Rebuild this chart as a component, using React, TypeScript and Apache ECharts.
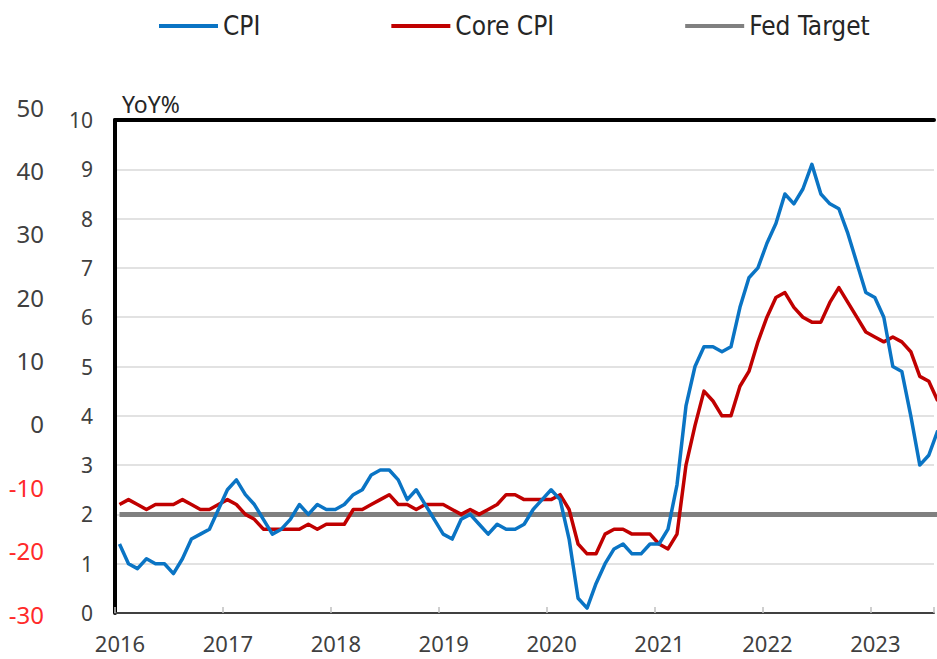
import React, { useEffect, useRef } from "react";
import * as echarts from "echarts";

const startYear = 2016;
const yearTicks = [2016, 2017, 2018, 2019, 2020, 2021, 2022, 2023];

// Monthly YoY %, Jan 2016 .. Aug 2023
const cpi = [
  1.4, 1.0, 0.9, 1.1, 1.0, 1.0, 0.8, 1.1, 1.5, 1.6, 1.7, 2.1,
  2.5, 2.7, 2.4, 2.2, 1.9, 1.6, 1.7, 1.9, 2.2, 2.0, 2.2, 2.1,
  2.1, 2.2, 2.4, 2.5, 2.8, 2.9, 2.9, 2.7, 2.3, 2.5, 2.2, 1.9,
  1.6, 1.5, 1.9, 2.0, 1.8, 1.6, 1.8, 1.7, 1.7, 1.8, 2.1, 2.3,
  2.5, 2.3, 1.5, 0.3, 0.1, 0.6, 1.0, 1.3, 1.4, 1.2, 1.2, 1.4,
  1.4, 1.7, 2.6, 4.2, 5.0, 5.4, 5.4, 5.3, 5.4, 6.2, 6.8, 7.0,
  7.5, 7.9, 8.5, 8.3, 8.6, 9.1, 8.5, 8.3, 8.2, 7.7, 7.1, 6.5,
  6.4, 6.0, 5.0, 4.9, 4.0, 3.0, 3.2, 3.7,
];

const coreCpi = [
  2.2, 2.3, 2.2, 2.1, 2.2, 2.2, 2.2, 2.3, 2.2, 2.1, 2.1, 2.2,
  2.3, 2.2, 2.0, 1.9, 1.7, 1.7, 1.7, 1.7, 1.7, 1.8, 1.7, 1.8,
  1.8, 1.8, 2.1, 2.1, 2.2, 2.3, 2.4, 2.2, 2.2, 2.1, 2.2, 2.2,
  2.2, 2.1, 2.0, 2.1, 2.0, 2.1, 2.2, 2.4, 2.4, 2.3, 2.3, 2.3,
  2.3, 2.4, 2.1, 1.4, 1.2, 1.2, 1.6, 1.7, 1.7, 1.6, 1.6, 1.6,
  1.4, 1.3, 1.6, 3.0, 3.8, 4.5, 4.3, 4.0, 4.0, 4.6, 4.9, 5.5,
  6.0, 6.4, 6.5, 6.2, 6.0, 5.9, 5.9, 6.3, 6.6, 6.3, 6.0, 5.7,
  5.6, 5.5, 5.6, 5.5, 5.3, 4.8, 4.7, 4.3,
];

const fedTarget = 2;

const innerTicks = { min: 0, max: 10, interval: 1 };
const outerTicks = { min: -30, max: 50, interval: 10 };

const monthX = (i: number) => startYear + (i + 0.5) / 12;

export default function App() {
  const ref = useRef<HTMLDivElement>(null);

  useEffect(() => {
    if (!ref.current) return;
    const chart = echarts.init(ref.current, null, { renderer: "svg" });
    const xMax = startYear + (937 - 115) / 108.3;
    const numFont = "Noto Sans";
    const txt = "#404040";

    chart.setOption({
      animation: false,
      backgroundColor: "#ffffff",
      legend: {
        left: 154,
        top: 8,
        itemWidth: 59,
        itemHeight: 4,
        itemGap: 131,
        icon: "rect",
        textStyle: {
          fontFamily: "DejaVu Sans Condensed, Liberation Sans Narrow, sans-serif",
          fontSize: 26,
          color: "#262626",
        },
        data: ["CPI", "Core CPI", "Fed Target"],
      },
      graphic: [
        {
          type: "text",
          left: 122,
          top: 92,
          style: {
            text: "YoY%",
            fontFamily: numFont,
            fontSize: 23,
            fill: "#262626",
          },
        },
      ],
      grid: [
        { left: 115, right: 0, top: 120, bottom: 46 },
        { left: 115, right: 0, top: 107, bottom: 45 },
      ],
      xAxis: [
        {
          type: "value",
          gridIndex: 0,
          min: startYear,
          max: xMax,
          interval: 1,
          axisLine: { show: true, lineStyle: { color: "#404040", width: 2 } },
          axisTick: { show: true, inside: true, length: 6, lineStyle: { color: "#bfbfbf", width: 1.5 } },
          splitLine: { show: false },
          axisLabel: {
            margin: 19,
            fontFamily: numFont,
            fontSize: 22,
            color: txt,
            padding: [0, 0, 0, 10],
            formatter: (v: number) => (yearTicks.includes(Math.round(v)) ? String(Math.round(v)) : ""),
          },
        },
        {
          type: "value",
          gridIndex: 0,
          position: "top",
          min: startYear,
          max: xMax,
          axisLine: { show: true, onZero: false, lineStyle: { color: "#000000", width: 4 } },
          axisTick: { show: false },
          axisLabel: { show: false },
          splitLine: { show: false },
        },
        {
          type: "value",
          gridIndex: 1,
          min: 0,
          max: 1,
          show: false,
        },
      ],
      yAxis: [
        {
          type: "value",
          gridIndex: 0,
          ...innerTicks,
          axisLine: { show: true, lineStyle: { color: "#000000", width: 4 } },
          axisTick: { show: false },
          splitLine: { show: true, lineStyle: { color: "#d9d9d9", width: 1.5 } },
          axisLabel: {
            margin: 22,
            fontFamily: numFont,
            fontSize: 21,
            color: txt,
          },
        },
        {
          type: "value",
          gridIndex: 1,
          ...outerTicks,
          axisLine: { show: false },
          axisTick: { show: false },
          splitLine: { show: false },
          axisLabel: {
            margin: 71,
            fontFamily: numFont,
            fontSize: 24,
            color: (v: any) => (Number(v) < 0 ? "#ff2a2a" : txt),
          },
        },
      ],
      series: [
        {
          name: "Fed Target",
          type: "line",
          xAxisIndex: 0,
          yAxisIndex: 0,
          symbol: "none",
          color: "#808080",
          lineStyle: { width: 5, color: "#808080" },
          data: cpi.map((_, i) => [monthX(i), fedTarget]),
          z: 2,
        },
        {
          name: "Core CPI",
          type: "line",
          xAxisIndex: 0,
          yAxisIndex: 0,
          symbol: "none",
          color: "#c00000",
          lineStyle: { width: 3.5, color: "#c00000", join: "round" },
          data: coreCpi.map((v, i) => [monthX(i), v]),
          z: 3,
        },
        {
          name: "CPI",
          type: "line",
          xAxisIndex: 0,
          yAxisIndex: 0,
          symbol: "none",
          color: "#0a74c4",
          lineStyle: { width: 3.5, color: "#0a74c4", join: "round" },
          data: cpi.map((v, i) => [monthX(i), v]),
          z: 4,
        },
      ],
    });

    return () => chart.dispose();
  }, []);

  return <div ref={ref} style={{ width: 937, height: 659, position: "absolute", left: 0, top: 0 }} />;
}
